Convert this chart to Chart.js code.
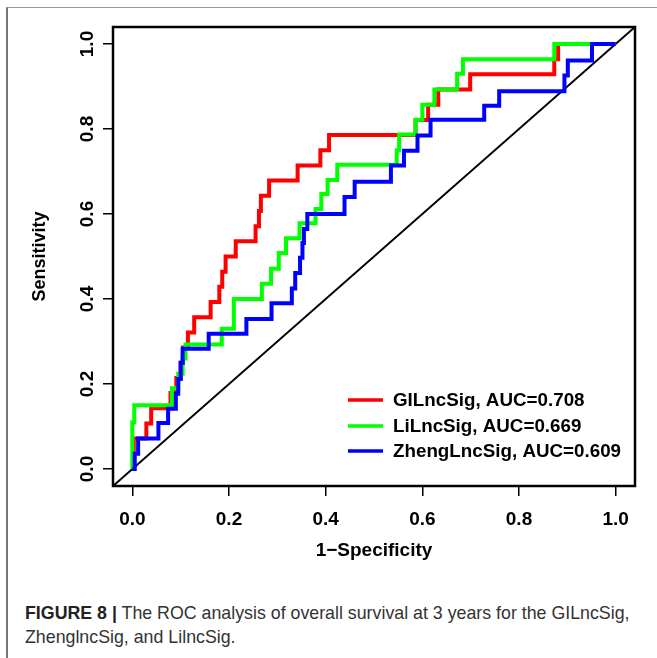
<!DOCTYPE html>
<html>
<head>
<meta charset="utf-8">
<script src="https://cdn.jsdelivr.net/npm/chart.js@4"></script>
<style>
  body { margin: 0; background: #fff; }
  #wrap { position: relative; width: 657px; height: 658px; overflow: hidden; }
  #frameL { position: absolute; left: 6px; top: 7px; width: 2px; height: 660px; background: #777; }
  #frameT { position: absolute; left: 6px; top: 7px; width: 660px; height: 1px; background: #999; }
  #chart { position: absolute; left: 0; top: 0; }
  #cap { position: absolute; left: 25px; top: 601px; width: 630px; font-family: "Liberation Sans", Arial, sans-serif;
         font-size: 17.8px; line-height: 24px; color: #333; white-space: nowrap; }
  #cap b { color: #222; }
</style>
</head>
<body>
<div id="wrap">
  <div id="frameL"></div>
  <div id="frameT"></div>
  <canvas id="chart" width="657" height="590"></canvas>
  <div id="cap"><b>FIGURE 8 |</b> The ROC analysis of overall survival at 3 years for the GILncSig,<br>ZhenglncSig, and LilncSig.</div>
</div>
<script>
// valeurs (1-specificite, sensibilite)
const fprGI = [0, 0.003, 0.029, 0.039, 0.079, 0.091, 0.1, 0.105, 0.115, 0.128, 0.162, 0.18, 0.186, 0.193, 0.214,
  0.255, 0.262, 0.266, 0.283, 0.342, 0.389, 0.407, 0.586, 0.612, 0.633, 0.699, 0.873, 0.881, 1];
const tprGI = [0, 0.072, 0.107, 0.143, 0.179, 0.214, 0.25, 0.286, 0.321, 0.357, 0.393, 0.429, 0.464, 0.5, 0.536,
  0.571, 0.607, 0.643, 0.679, 0.714, 0.75, 0.786, 0.821, 0.857, 0.893, 0.929, 0.964, 1, 1];

const fprLi = [0, 0, 0.004, 0.082, 0.095, 0.104, 0.11, 0.185, 0.21, 0.268, 0.287, 0.303, 0.318, 0.346, 0.379,
  0.391, 0.404, 0.424, 0.547, 0.552, 0.586, 0.6, 0.625, 0.672, 0.684, 0.873, 1];
const tprLi = [0, 0.11, 0.15, 0.19, 0.224, 0.26, 0.293, 0.33, 0.4, 0.436, 0.471, 0.508, 0.543, 0.578, 0.612,
  0.647, 0.68, 0.716, 0.75, 0.787, 0.822, 0.857, 0.893, 0.93, 0.964, 1, 1];

const fprZheng = [0, 0.005, 0.012, 0.054, 0.074, 0.09, 0.095, 0.1, 0.104, 0.158, 0.236, 0.288, 0.33, 0.337, 0.347,
  0.352, 0.355, 0.362, 0.439, 0.46, 0.535, 0.562, 0.59, 0.617, 0.728, 0.759, 0.894, 0.901, 0.951, 1];
const tprZheng = [0, 0.036, 0.072, 0.108, 0.142, 0.177, 0.212, 0.25, 0.283, 0.318, 0.353, 0.39, 0.425, 0.461, 0.497,
  0.532, 0.565, 0.6, 0.64, 0.676, 0.714, 0.749, 0.785, 0.822, 0.855, 0.889, 0.926, 0.961, 1, 1];

const seriesNames = ['GILncSig', 'LiLncSig', 'ZhengLncSig'];
const aucValues = [0.708, 0.669, 0.609];
const seriesColors = ['#ff0000', '#00ff00', '#0000ff'];
const tickValues = [0, 0.2, 0.4, 0.6, 0.8, 1.0];
const axisRange = [-0.04, 1.04];
const diagX = [-0.04, 1.04];

const FONT = '"Liberation Sans", Arial, sans-serif';
Chart.defaults.font.family = FONT;
Chart.defaults.color = '#000';

function toPoints(xs, ys) {
  return xs.map(function(x, i) { return { x: x, y: ys[i] }; });
}

// cadre noir autour de la zone de trace + legende
const boxPlugin = {
  id: 'box',
  afterDatasetsDraw(chart) {
    const a = chart.chartArea, ctx = chart.ctx;
    ctx.save();
    ctx.strokeStyle = '#000';
    ctx.lineWidth = 2.5;
    ctx.strokeRect(a.left, a.top, a.right - a.left, a.bottom - a.top);
    ctx.restore();
  },
  afterDraw(chart) {
    const ctx = chart.ctx;
    ctx.save();
    ctx.font = 'bold 18.8px ' + FONT;
    ctx.textBaseline = 'middle';
    ctx.textAlign = 'left';
    const ys = [400, 426, 451];
    seriesNames.forEach(function(name, i) {
      ctx.strokeStyle = seriesColors[i];
      ctx.lineWidth = 3.5;
      ctx.beginPath();
      ctx.moveTo(348, ys[i]);
      ctx.lineTo(383, ys[i]);
      ctx.stroke();
      ctx.fillStyle = '#000';
      ctx.fillText(name + ', AUC=' + aucValues[i].toFixed(3), 393, ys[i] + 1);
    });
    ctx.restore();
  }
};

const setTicks = function(axis) {
  axis.ticks = tickValues.map(function(v) { return { value: v }; });
};

const ctx = document.getElementById('chart').getContext('2d');
const config = {
  type: 'line',
  data: {
    datasets: [{
      label: 'diag',
      data: toPoints(diagX, diagX),
      borderColor: '#000',
      borderWidth: 2,
      pointRadius: 0,
      order: 5
    }, {
      label: seriesNames[0],
      data: toPoints(fprGI, tprGI),
      borderColor: seriesColors[0],
      borderWidth: 4,
      stepped: 'before',
      pointRadius: 0,
      order: 3
    }, {
      label: seriesNames[1],
      data: toPoints(fprLi, tprLi),
      borderColor: seriesColors[1],
      borderWidth: 4,
      stepped: 'before',
      pointRadius: 0,
      order: 2
    }, {
      label: seriesNames[2],
      data: toPoints(fprZheng, tprZheng),
      borderColor: seriesColors[2],
      borderWidth: 4,
      stepped: 'before',
      pointRadius: 0,
      order: 1
    }]
  },
  options: {
    responsive: false,
    animation: false,
    devicePixelRatio: 1,
    layout: { padding: { top: 27, right: 22, left: 0, bottom: 0 } },
    plugins: { legend: { display: false }, tooltip: { enabled: false } },
    scales: {
      x: {
        type: 'linear',
        min: axisRange[0],
        max: axisRange[1],
        afterBuildTicks: setTicks,
        afterFit: function(axis) { axis.height = 104; },
        grid: { drawOnChartArea: false, drawTicks: true, tickLength: 10, color: '#000', lineWidth: 1.5 },
        border: { display: false },
        ticks: {
          font: { size: 19, weight: 'bold' },
          color: '#000',
          padding: 12,
          maxRotation: 0,
          callback: function(v) { return v.toFixed(1); }
        },
        title: {
          display: true,
          text: '1\u2212Specificity',
          font: { size: 19, weight: 'bold' },
          color: '#000',
          padding: { top: 0, bottom: 28 }
        }
      },
      y: {
        type: 'linear',
        min: axisRange[0],
        max: axisRange[1],
        afterBuildTicks: setTicks,
        afterFit: function(axis) { axis.width = 113; },
        grid: { drawOnChartArea: false, drawTicks: true, tickLength: 10, color: '#000', lineWidth: 1.5 },
        border: { display: false },
        ticks: {
          font: { size: 19, weight: 'bold' },
          color: '#000',
          padding: 2,
          minRotation: 90,
          maxRotation: 90,
          crossAlign: 'center',
          callback: function(v) { return v.toFixed(1); }
        },
        title: {
          display: true,
          text: 'Sensitivity',
          font: { size: 18, weight: 'bold' },
          color: '#000',
          padding: { top: 29, bottom: 0 }
        }
      }
    }
  },
  plugins: [boxPlugin]
};

const chart = new Chart(ctx, config);
</script>
</body>
</html>
